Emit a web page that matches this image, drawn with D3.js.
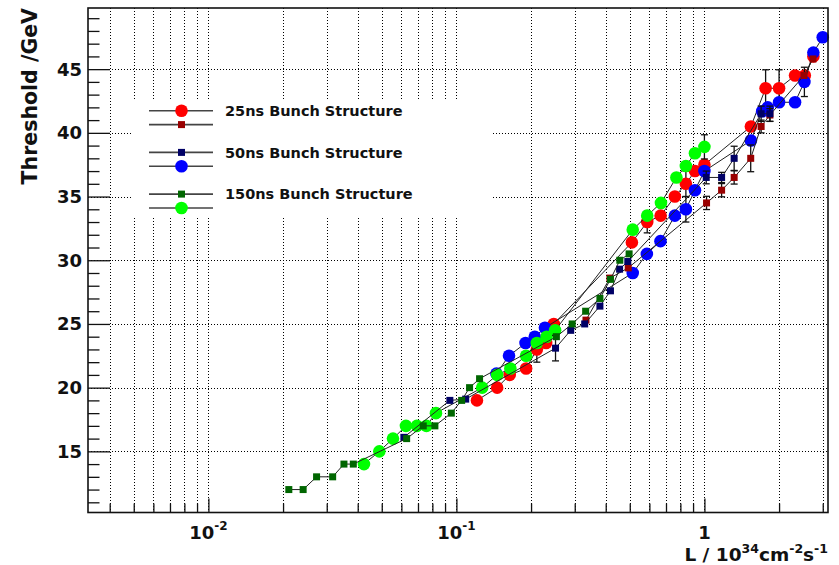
<!DOCTYPE html>
<html>
<head>
<meta charset="utf-8">
<script src="https://cdn.jsdelivr.net/npm/d3@7"></script>
<style>
body { margin: 0; background: #fff; }
svg { display: block; }
text { font-family: "DejaVu Sans", sans-serif; font-weight: bold; fill: #111; }
</style>
</head>
<body>
<script>
const width = 839;
const height = 565;

// luminosity (10^34 cm^-2 s^-1) and threshold (GeV)
var red_L   = [0.121, 0.146, 0.164, 0.191, 0.211, 0.23, 0.247, 0.51, 0.588, 0.666, 0.76, 0.842, 0.916, 1.0, 1.54, 1.765, 2.0, 2.32, 2.54, 2.75];
var red_T   = [19, 20, 21, 21.5, 23, 23.5, 25, 31.4, 33, 33.5, 35, 36, 37, 37.5, 40.5, 43.5, 43.5, 44.5, 44.5, 46];
var red_E   = [0, 0, 0, 0, 1.0, 0, 0, 0, 0.85, 0, 0, 1.0, 0, 0, 0, 1.45, 1.45, 0, 0, 0];

var dred_L  = [0.333, 0.416, 0.493, 1.02, 1.173, 1.318, 1.537, 1.693, 1.837, 2.52, 2.74];
var dred_T  = [25.3, 28.6, 29.4, 34.5, 35.5, 36.5, 38, 40.5, 41.4, 44.5, 45.8];
var dred_E  = [0, 0, 0, 0.52, 0.52, 0.52, 1.05, 0.5, 0.5, 0, 0];

var navy_L  = [0.0614, 0.0941, 0.109, 0.251, 0.289, 0.329, 0.379, 0.418, 0.455, 0.491, 1.017, 1.173, 1.318, 1.693, 1.837];
var navy_T  = [16.1, 19, 19.1, 23.1, 24.5, 25, 26.4, 27.6, 29.3, 29.9, 36.5, 36.5, 38, 41.5, 41.5];
var navy_E  = [0, 0, 0, 1.0, 0, 0, 0, 0, 0, 0, 0.5, 0.4, 0.95, 0.6, 0.6];

var blue_L  = [0.145, 0.163, 0.19, 0.207, 0.2275, 0.514, 0.586, 0.665, 0.76, 0.842, 0.916, 1.0, 1.54, 1.71, 1.80, 2.0, 2.32, 2.53, 2.75, 3.0];
var blue_T  = [21.1, 22.5, 23.5, 24, 24.7, 29, 30.5, 31.5, 33.5, 34, 35.5, 37, 39.4, 41.7, 42, 42.4, 42.4, 44, 46.3, 47.5];
var blue_E  = [0, 0, 0, 0, 0, 0, 0, 0, 0, 1.0, 0, 0, 0, 0, 0, 0, 0, 1.15, 0, 0];

var dgreen_L = [0.0211, 0.0241, 0.0273, 0.0317, 0.0352, 0.0384, 0.063, 0.0735, 0.0819, 0.0954, 0.105, 0.113, 0.124, 0.253, 0.293, 0.332, 0.379, 0.418, 0.456, 0.497];
var dgreen_T = [12, 12, 13, 13, 14, 14, 16, 17, 17, 18, 19, 20, 20.7, 24, 25, 26, 27, 28.5, 30, 30.5];
var dgreen_E = dgreen_L.map(() => 0);

var green_L = [0.0424, 0.0489, 0.0555, 0.0626, 0.0693, 0.0757, 0.0827, 0.127, 0.146, 0.165, 0.191, 0.211, 0.231, 0.25, 0.514, 0.588, 0.668, 0.771, 0.842, 0.916, 1.0];
var green_T = [14, 15, 16, 17, 17, 17, 18, 20, 21, 21.5, 22.5, 23.5, 24, 24.5, 32.4, 33.5, 34.5, 36.5, 37.4, 38.4, 38.9];
var green_E = [0, 0, 0, 0, 0, 0, 0, 0, 0, 0, 0, 0, 0, 0, 0, 0, 0, 0, 0, 0, 0.95];

var y_major = [15, 20, 25, 30, 35, 40, 45];
var x_labels = [{v: 0.01, base: "10", exp: "-2"}, {v: 0.1, base: "10", exp: "-1"}, {v: 1, base: "1", exp: ""}];

// drawing order: circles first, squares on top
var series = [
  {name: "red",    L: red_L,    T: red_T,    E: red_E,    color: "#ff0000", shape: "circle"},
  {name: "blue",   L: blue_L,   T: blue_T,   E: blue_E,   color: "#0000ff", shape: "circle"},
  {name: "green",  L: green_L,  T: green_T,  E: green_E,  color: "#00ff00", shape: "circle"},
  {name: "dred",   L: dred_L,   T: dred_T,   E: dred_E,   color: "#990000", shape: "square"},
  {name: "navy",   L: navy_L,   T: navy_T,   E: navy_E,   color: "#000066", shape: "square"},
  {name: "dgreen", L: dgreen_L, T: dgreen_T, E: dgreen_E, color: "#006600", shape: "square"}
];

// legend rows (row index in a 8-row grid), label only on first of each pair
var legend_rows = [
  {s: "red",    row: 0, label: "25ns Bunch Structure"},
  {s: "dred",   row: 1, label: ""},
  {s: "navy",   row: 3, label: "50ns Bunch Structure"},
  {s: "blue",   row: 4, label: ""},
  {s: "dgreen", row: 6, label: "150ns Bunch Structure"},
  {s: "green",  row: 7, label: ""}
];

const plot_left = 88, plot_right = 828, plot_top = 8, plot_bottom = 512.5;
const circle_r = 6.3;
const sq = 7;

var xScale = d3.scaleLog().domain([0.00327, 3.15]).range([plot_left, plot_right]);
var yScale = d3.scaleLinear().domain([10.2, 49.8]).range([plot_bottom, plot_top]);

var svg = d3.select("body").append("svg")
    .attr("width", width)
    .attr("height", height);

// grid
var xTicks = xScale.ticks();
svg.append("g").attr("class", "grid_x")
  .selectAll("line").data(xTicks).enter()
  .append("line")
    .attr("x1", d => Math.round(xScale(d)) + 0.5)
    .attr("x2", d => Math.round(xScale(d)) + 0.5)
    .attr("y1", plot_top)
    .attr("y2", plot_bottom)
    .attr("stroke", "#000")
    .attr("stroke-width", 1)
    .attr("stroke-dasharray", "1,2");

svg.append("g").attr("class", "grid_y")
  .selectAll("line").data(y_major).enter()
  .append("line")
    .attr("x1", plot_left)
    .attr("x2", plot_right)
    .attr("y1", d => Math.round(yScale(d)) + 0.5)
    .attr("y2", d => Math.round(yScale(d)) + 0.5)
    .attr("stroke", "#000")
    .attr("stroke-width", 1)
    .attr("stroke-dasharray", "1,2");

// legend background hides the grid
svg.append("rect")
  .attr("x", 133).attr("y", 100)
  .attr("width", 359).attr("height", 118)
  .attr("fill", "#fff");

function drawMarker(g, shape, color, x, y) {
  if (shape == "circle") {
    g.append("circle").attr("cx", x).attr("cy", y).attr("r", circle_r).attr("fill", color);
  } else {
    g.append("rect").attr("x", x - sq/2).attr("y", y - sq/2)
      .attr("width", sq).attr("height", sq).attr("fill", color);
  }
}

var line = d3.line().x(d => xScale(d.L)).y(d => yScale(d.T));

series.forEach(function(s){
  var pts = s.L.map((l, i) => ({L: l, T: s.T[i], E: s.E[i]}));
  var g = svg.append("g").attr("class", "series_" + s.name);

  g.append("path")
    .datum(pts)
    .attr("d", line)
    .attr("fill", "none")
    .attr("stroke", "#222")
    .attr("stroke-width", 1);

  // error bars
  var eb = g.selectAll(".err").data(pts.filter(d => d.E > 0)).enter()
    .append("g").attr("class", "err");
  eb.append("line")
    .attr("x1", d => xScale(d.L)).attr("x2", d => xScale(d.L))
    .attr("y1", d => yScale(d.T - d.E)).attr("y2", d => yScale(d.T + d.E))
    .attr("stroke", "#111").attr("stroke-width", 1.3);
  [-1, 1].forEach(function(sgn){
    eb.append("line")
      .attr("x1", d => xScale(d.L) - 3.5).attr("x2", d => xScale(d.L) + 3.5)
      .attr("y1", d => yScale(d.T + sgn * d.E)).attr("y2", d => yScale(d.T + sgn * d.E))
      .attr("stroke", "#111").attr("stroke-width", 1.3);
  });

  pts.forEach(function(d){
    drawMarker(g, s.shape, s.color, xScale(d.L), yScale(d.T));
  });
});

// axes: ticks inside the frame
var xMinor = xTicks.filter(d => Math.abs(Math.log10(d) - Math.round(Math.log10(d))) > 1e-6);
var xMajor = xTicks.filter(d => Math.abs(Math.log10(d) - Math.round(Math.log10(d))) < 1e-6);

svg.append("g").attr("transform", "translate(0," + plot_bottom + ")")
  .call(d3.axisBottom(xScale).tickValues(xMinor).tickSizeInner(-9).tickSizeOuter(0).tickFormat(""));
svg.append("g").attr("transform", "translate(0," + plot_bottom + ")")
  .call(d3.axisBottom(xScale).tickValues(xMajor).tickSizeInner(-14).tickSizeOuter(0).tickFormat(""));

var yMinor = d3.range(11, 50).filter(d => d % 5 != 0);
svg.append("g").attr("transform", "translate(" + plot_left + ",0)")
  .call(d3.axisLeft(yScale).tickValues(yMinor).tickSizeInner(-11.5).tickSizeOuter(0).tickFormat(""));
svg.append("g").attr("transform", "translate(" + plot_left + ",0)")
  .call(d3.axisLeft(yScale).tickValues(y_major).tickSizeInner(-22).tickSizeOuter(0).tickFormat(""));

svg.selectAll(".domain").remove();
svg.selectAll(".tick line").attr("stroke", "#111").attr("stroke-width", 1.3);

// frame
svg.append("rect")
  .attr("x", plot_left).attr("y", plot_top)
  .attr("width", plot_right - plot_left).attr("height", plot_bottom - plot_top)
  .attr("fill", "none")
  .attr("stroke", "#111")
  .attr("stroke-width", 1.6);

// y tick labels
svg.append("g").selectAll("text").data(y_major).enter()
  .append("text")
    .attr("x", 82)
    .attr("y", d => yScale(d))
    .attr("dy", "0.36em")
    .attr("text-anchor", "end")
    .style("font-size", "18px")
    .text(d => d);

// x tick labels
var xl = svg.append("g").selectAll("text").data(x_labels).enter()
  .append("text")
    .attr("x", d => xScale(d.v))
    .attr("y", 539)
    .attr("text-anchor", "middle")
    .style("font-size", "18px");
xl.append("tspan").text(d => d.base);
xl.append("tspan").attr("dy", -9).style("font-size", "12px").text(d => d.exp);

// axis titles
svg.append("text")
  .attr("transform", "translate(37," + plot_top + ") rotate(-90)")
  .attr("text-anchor", "end")
  .style("font-size", "20.5px")
  .text("Threshold /GeV");

var xt = svg.append("text")
  .attr("x", plot_right)
  .attr("y", 560.5)
  .attr("text-anchor", "end")
  .style("font-size", "18.5px");
xt.append("tspan").text("L / 10");
xt.append("tspan").attr("dy", -8).style("font-size", "12.5px").text("34");
xt.append("tspan").attr("dy", 8).text("cm");
xt.append("tspan").attr("dy", -8).style("font-size", "12.5px").text("-2");
xt.append("tspan").attr("dy", 8).text("s");
xt.append("tspan").attr("dy", -8).style("font-size", "12.5px").text("-1");

// legend
var lg = svg.append("g").attr("class", "legend");
legend_rows.forEach(function(r){
  var s = series.find(d => d.name == r.s);
  var y = 110.7 + r.row * 13.9;
  lg.append("line")
    .attr("x1", 149).attr("x2", 213)
    .attr("y1", y).attr("y2", y)
    .attr("stroke", "#444").attr("stroke-width", 1.6);
  drawMarker(lg, s.shape, s.color, 181.5, y);
  if (r.label != "") {
    lg.append("text")
      .attr("x", 225)
      .attr("y", y)
      .attr("dy", "0.36em")
      .style("font-size", "14.5px")
      .text(r.label);
  }
});
</script>
</body>
</html>
